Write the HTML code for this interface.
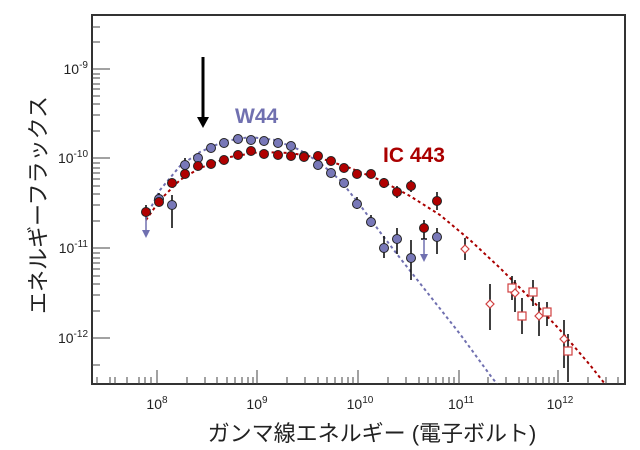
<!DOCTYPE html>
<html><head><meta charset="utf-8"><style>
body{margin:0;background:#fff;}
svg{display:block;font-family:"Liberation Sans","Noto Sans CJK JP",sans-serif;}
</style></head><body>
<svg width="640" height="450" viewBox="0 0 640 450">
<defs><clipPath id="c"><rect x="92" y="15" width="533" height="369"/></clipPath></defs>
<rect x="92" y="15" width="533" height="369" fill="none" stroke="#333" stroke-width="2"/>
<g stroke="#444" stroke-width="1">
<path d="M92 69h18M92 158h18M92 248h18M92 338h18"/>
<path d="M92 42h8M92 27h8M92 131h8M92 115h8M92 104h8M92 96h8M92 89h8M92 84h8M92 78h8M92 74h8
M92 221h8M92 205h8M92 194h8M92 186h8M92 179h8M92 173h8M92 168h8M92 163h8
M92 311h8M92 295h8M92 284h8M92 276h8M92 269h8M92 263h8M92 258h8M92 253h8
M92 365h8"/>
<path d="M157 384v-14M257 384v-14M358 384v-14M459 384v-14M558 384v-14"/>
<path d="M127 384v-7M139 384v-7M145 384v-7M151 384v-7M187 384v-7M205 384v-7M217 384v-7M227 384v-7M235 384v-7M242 384v-7M248 384v-7M253 384v-7
M287 384v-7M305 384v-7M318 384v-7M327 384v-7M335 384v-7M342 384v-7M348 384v-7M353 384v-7
M388 384v-7M406 384v-7M419 384v-7M428 384v-7M436 384v-7M443 384v-7M449 384v-7M454 384v-7
M488 384v-7M506 384v-7M519 384v-7M528 384v-7M536 384v-7M543 384v-7M549 384v-7M554 384v-7
M588 384v-7M606 384v-7M618 384v-7M97 384v-7M110 384v-7M115 384v-7"/>
</g>
<g font-size="14" fill="#222" text-anchor="end">
<text x="88" y="74">10<tspan font-size="10" dy="-6">-9</tspan></text>
<text x="88" y="163">10<tspan font-size="10" dy="-6">-10</tspan></text>
<text x="88" y="253">10<tspan font-size="10" dy="-6">-11</tspan></text>
<text x="88" y="343">10<tspan font-size="10" dy="-6">-12</tspan></text>
</g>
<g font-size="14" fill="#222" text-anchor="middle">
<text x="157" y="409">10<tspan font-size="10" dy="-6">8</tspan></text>
<text x="257" y="409">10<tspan font-size="10" dy="-6">9</tspan></text>
<text x="360" y="409">10<tspan font-size="10" dy="-6">10</tspan></text>
<text x="461" y="409">10<tspan font-size="10" dy="-6">11</tspan></text>
<text x="560" y="409">10<tspan font-size="10" dy="-6">12</tspan></text>
</g>
<text x="372" y="441" font-size="22" text-anchor="middle" fill="#222">ガンマ線エネルギー (電子ボルト)</text>
<text transform="translate(46,205) rotate(-90)" font-size="22" text-anchor="middle" fill="#222">エネルギーフラックス</text>
<g clip-path="url(#c)" fill="none" stroke-width="2" stroke-dasharray="3,3">
<polyline stroke="#a00" points="146,220 160,200 180,180 200,168 230,157 260,152 290,153 320,158 350,168 380,180 410,196 440,215 470,240 500,268 530,298 560,330 590,365 605,384"/>
<polyline stroke="#7070b0" points="146,217 160,190 180,166 200,152 225,141 250,137 275,140 300,150 320,163 340,180 360,205 380,232 400,258 430,296 460,334 490,375 497,384"/>
</g>
<line x1="203" y1="57" x2="203" y2="120" stroke="#000" stroke-width="3"/>
<polygon points="197,117 209,117 203,128" fill="#000"/>
<text x="235" y="123" font-size="21" font-weight="bold" fill="#7070b0">W44</text>
<text x="383" y="162" font-size="21" font-weight="bold" fill="#a00">IC 443</text>
<g stroke="#111" stroke-width="1.6">
<path d="M172 195v33M185 158v14M159 193v12M411 240v40M384 236v22M397 228v26M437 228v26M371 215v12M357 197v12
M146 205v14M159 196v10M424 220v20M437 192v18M397 186v12M411 180v12M384 178v10
M465 238v22M490 284v46M512 276v24M515 280v32M522 298v36M533 280v26M539 302v34M547 302v24M564 320v48M568 334v48
M143 215h6M421 239h6"/>
</g>
<g fill="#7070b0" stroke="#7070b0">
<line x1="146" y1="215" x2="146" y2="232" stroke-width="1.5"/><polygon points="142,230 150,230 146,238" stroke="none"/>
<line x1="424" y1="239" x2="424" y2="256" stroke-width="1.5"/><polygon points="420,254 428,254 424,262" stroke="none"/>
</g>
<g fill="#7878b8" stroke="#222" stroke-width="1">
<circle cx="159" cy="199" r="4.5"/><circle cx="172" cy="205" r="4.5"/><circle cx="185" cy="165" r="4.5"/><circle cx="198" cy="158" r="4.5"/>
<circle cx="211" cy="148" r="4.5"/><circle cx="224" cy="143" r="4.5"/><circle cx="238" cy="139" r="4.5"/><circle cx="251" cy="140" r="4.5"/>
<circle cx="264" cy="141" r="4.5"/><circle cx="278" cy="143" r="4.5"/><circle cx="291" cy="146" r="4.5"/><circle cx="304" cy="156" r="4.5"/>
<circle cx="318" cy="165" r="4.5"/><circle cx="331" cy="173" r="4.5"/><circle cx="344" cy="183" r="4.5"/><circle cx="357" cy="204" r="4.5"/>
<circle cx="371" cy="222" r="4.5"/><circle cx="384" cy="248" r="4.5"/><circle cx="397" cy="239" r="4.5"/><circle cx="411" cy="258" r="4.5"/><circle cx="437" cy="237" r="4.5"/>
</g>
<g fill="#b00000" stroke="#222" stroke-width="1">
<circle cx="146" cy="212" r="4.5"/><circle cx="159" cy="202" r="4.5"/><circle cx="172" cy="183" r="4.5"/><circle cx="185" cy="174" r="4.5"/>
<circle cx="198" cy="166" r="4.5"/><circle cx="211" cy="164" r="4.5"/><circle cx="224" cy="160" r="4.5"/><circle cx="238" cy="155" r="4.5"/>
<circle cx="251" cy="151" r="4.5"/><circle cx="264" cy="154" r="4.5"/><circle cx="278" cy="155" r="4.5"/><circle cx="291" cy="156" r="4.5"/>
<circle cx="304" cy="157" r="4.5"/><circle cx="318" cy="156" r="4.5"/><circle cx="331" cy="161" r="4.5"/><circle cx="344" cy="168" r="4.5"/>
<circle cx="357" cy="174" r="4.5"/><circle cx="371" cy="174" r="4.5"/><circle cx="384" cy="183" r="4.5"/><circle cx="397" cy="192" r="4.5"/>
<circle cx="411" cy="186" r="4.5"/><circle cx="424" cy="228" r="4.5"/><circle cx="437" cy="201" r="4.5"/>
</g>
<g fill="#fff" stroke="#d04040" stroke-width="1.2">
<rect x="508" y="284" width="8" height="8"/><rect x="518" y="312" width="8" height="8"/><rect x="529" y="288" width="8" height="8"/><rect x="543" y="308" width="8" height="8"/><rect x="564" y="347" width="8" height="8"/>
<polygon points="465,245 469,249 465,253 461,249"/><polygon points="490,300 494,304 490,308 486,304"/><polygon points="515,289 519,293 515,297 511,293"/><polygon points="539,312 543,316 539,320 535,316"/><polygon points="564,335 568,339 564,343 560,339"/>
</g>
</svg>
</body></html>
